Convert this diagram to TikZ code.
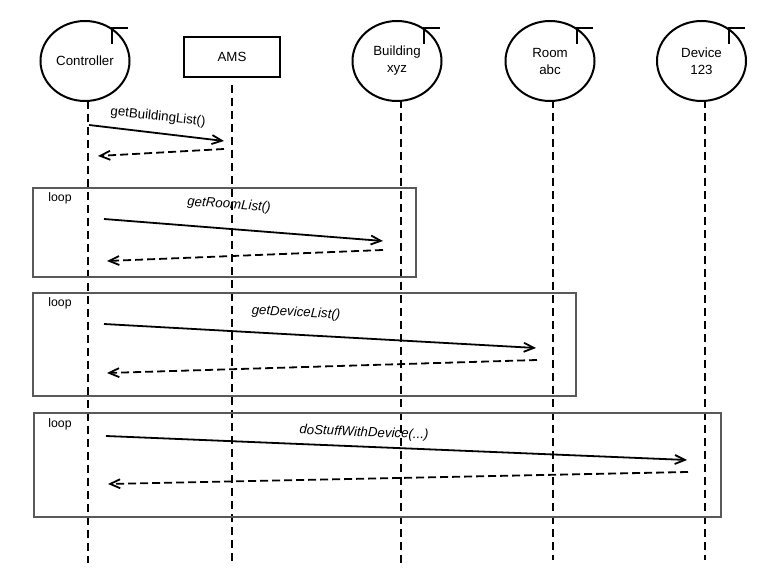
\documentclass[tikz,border=0pt]{standalone}
\usepackage{fontspec}
\setmainfont{Liberation Sans}
\usetikzlibrary{shapes.geometric,arrows.meta}
\begin{document}
\begin{tikzpicture}[x=1pt,y=-1pt,
  every node/.style={font=\fontsize{13.3}{17}\selectfont, inner sep=0pt},
  entity/.style={ellipse, draw, line width=2pt, minimum width=89pt, minimum height=80pt, align=center},
  boundary/.style={draw, line width=2pt, minimum width=96pt, minimum height=40pt},
  lifeline/.style={line width=2pt, dash pattern=on 8pt off 5pt},
  msg/.style={line width=1.8pt, -{Straight Barb[length=10pt,width=9pt]}},
  ret/.style={line width=1.8pt, dash pattern=on 8pt off 4pt, -{Straight Barb[length=10pt,width=9pt]}},
  frame/.style={draw=black!65, line width=1.3pt},
  lbl/.style={font=\fontsize{13.3}{15}\selectfont\itshape},
  looplbl/.style={font=\fontsize{12.3}{14}\selectfont}]
\useasboundingbox (0,0) rectangle (769,585);

% participants
\node[entity] (ctrl) at (85,61) {Controller};
\node[boundary] (ams) at (232,57) {AMS};
\node[entity] (bld) at (397,61) {Building\\xyz};
\node[entity] (room) at (550,61) {Room\\abc};
\node[entity] (dev) at (701.5,61) {Device\\123};
\foreach \e in {ctrl,bld,room,dev}
  \draw[line width=2pt] (\e.center) ++(27,-17) |- ++(16,-16);

% lifelines
\coordinate (ctrlT) at (88,101);  \coordinate (ctrlB) at (88,563);
\coordinate (amsT) at (232,85);   \coordinate (amsB) at (232,563);
\coordinate (bldT) at (401,100);  \coordinate (bldB) at (401,563);
\coordinate (roomT) at (553,100); \coordinate (roomB) at (553,560);
\coordinate (devT) at (705,100);  \coordinate (devB) at (705,560);
\foreach \e in {ctrl,ams,bld,room,dev}
  \draw[lifeline] (\e T) -- (\e B);

% loop frames
\node[frame, minimum width=383pt, minimum height=89pt] (loopA) at (224.5,232.5) {};
\node[frame, minimum width=543pt, minimum height=103pt] (loopB) at (304.5,344.5) {};
\node[frame, minimum width=687pt, minimum height=104pt] (loopC) at (377.5,465) {};
\node[looplbl] (loopAl) at (60,198) {loop};
\node[looplbl] (loopBl) at (60,303) {loop};
\node[looplbl] (loopCl) at (60,424) {loop};

% message end points
\coordinate (m1s) at (89,125);  \coordinate (m1e) at (224,141);
\coordinate (r1s) at (224,149); \coordinate (r1e) at (98,156);
\coordinate (m2s) at (104,219); \coordinate (m2e) at (383,241);
\coordinate (r2s) at (383,250); \coordinate (r2e) at (107,261);
\coordinate (m3s) at (104,324); \coordinate (m3e) at (536,348);
\coordinate (r3s) at (537,360); \coordinate (r3e) at (107,373);
\coordinate (m4s) at (106,436); \coordinate (m4e) at (687,460);
\coordinate (r4s) at (688,472); \coordinate (r4e) at (108,484);

\draw[msg] (m1s) -- (m1e);
\draw[ret] (r1s) -- (r1e);
\draw[msg] (m2s) -- (m2e);
\draw[ret] (r2s) -- (r2e);
\draw[msg] (m3s) -- (m3e);
\draw[ret] (r3s) -- (r3e);
\draw[msg] (m4s) -- (m4e);
\draw[ret] (r4s) -- (r4e);

% message labels
\node[font=\fontsize{13.3}{15}\selectfont, rotate=-6.5] (l1) at (158,117) {getBuildingList()};
\node[lbl, rotate=-4] (l2) at (229,205) {getRoomList()};
\node[lbl, rotate=-3] (l3) at (296,313) {getDeviceList()};
\node[lbl, rotate=-2.4] (l4) at (364,433) {doStuffWithDevice(...)};
\end{tikzpicture}
\end{document}
